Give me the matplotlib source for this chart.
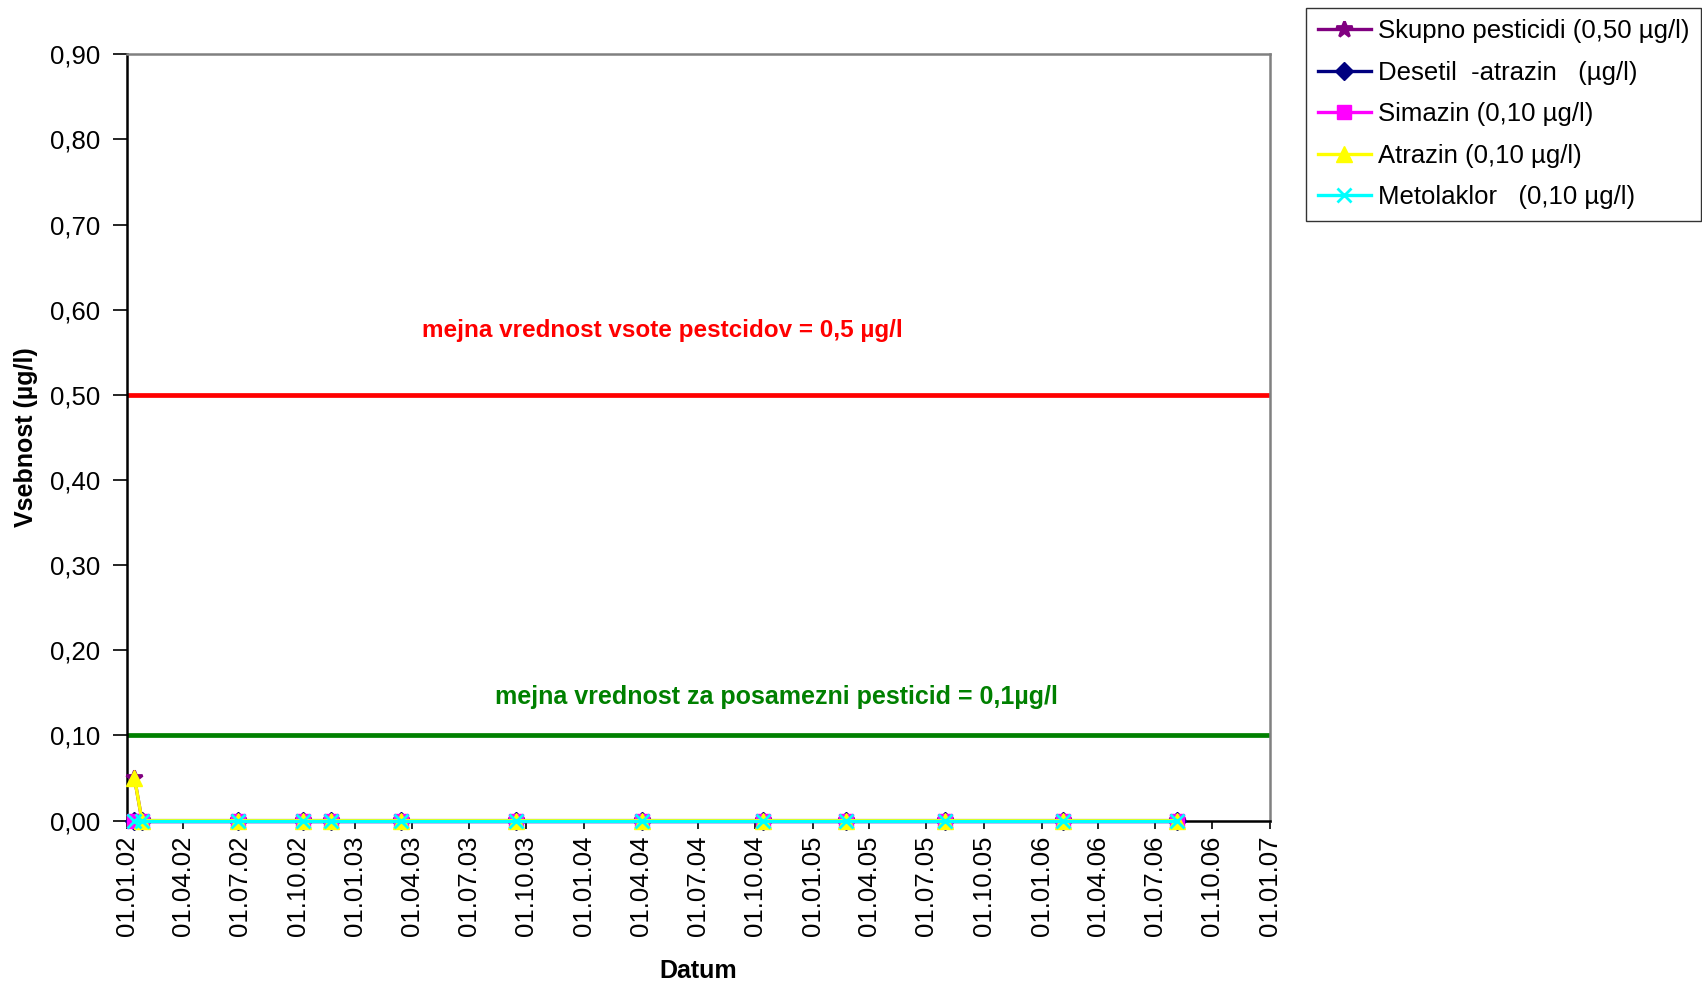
import pandas as pd
import matplotlib
matplotlib.use("Agg")
import matplotlib.pyplot as plt
import matplotlib.dates as mdates

# =============================================================================
#  Pesticide concentrations over time, with limit values
# =============================================================================

plt.rcParams["font.family"] = ["Liberation Sans", "DejaVu Sans"]
plt.rcParams["font.size"] = 18

# ---- sampling dates and measured values (µg/l) ----
dates = pd.to_datetime([
    "2002-01-13", "2002-01-25", "2002-06-28", "2002-10-09", "2002-11-23",
    "2003-03-14", "2003-09-14", "2004-04-02", "2004-10-13", "2005-02-22",
    "2005-07-30", "2006-02-04", "2006-08-05",
])
skupno = [0.05, 0, 0, 0, 0, 0, 0, 0, 0, 0, 0, 0, 0]
desetil = [0, 0, 0, 0, 0, 0, 0, 0, 0, 0, 0, 0, 0]
simazin = [0, 0, 0, 0, 0, 0, 0, 0, 0, 0, 0, 0, 0]
atrazin = [0.05, 0, 0, 0, 0, 0, 0, 0, 0, 0, 0, 0, 0]
metolaklor = [0, 0, 0, 0, 0, 0, 0, 0, 0, 0, 0, 0, 0]

limit_sum = 0.5
limit_single = 0.1

# =============================================================================
#  Figure
# =============================================================================

fig = plt.figure(figsize=(17.02, 9.83), dpi=100)
ax = fig.add_axes([0.0746, 0.1652, 0.6716, 0.7796])

series = [
    (skupno, "Skupno pesticidi (0,50 µg/l)", "#800080", "*", 12),
    (desetil, "Desetil  -atrazin   (µg/l)", "#000080", "D", 9),
    (simazin, "Simazin (0,10 µg/l)", "#FF00FF", "s", 9.5),
    (atrazin, "Atrazin (0,10 µg/l)", "#FFFF00", "^", 12),
    (metolaklor, "Metolaklor   (0,10 µg/l)", "#00FFFF", "x", 10),
]
for values, label, color, marker, ms in series:
    ax.plot(
        dates,
        values,
        color=color,
        marker=marker,
        markersize=ms,
        markeredgewidth=2 if marker in "x*" else 1,
        linewidth=2.4,
        label=label,
        clip_on=False,
        zorder=3,
    )

# ---- limit values ----
ax.axhline(limit_sum, xmin=0.002, xmax=0.997, color="#FF0000", linewidth=3.4, zorder=2)
ax.axhline(limit_single, xmin=0.002, xmax=0.997, color="#008000", linewidth=3.4, zorder=2)

ax.text(0.468, 0.639, "mejna vrednost vsote pestcidov = 0,5 µg/l",
        transform=ax.transAxes, ha="center", va="center",
        color="#FF0000", fontsize=17.5, fontweight="bold")
ax.text(0.568, 0.1615, "mejna vrednost za posamezni pesticid = 0,1µg/l",
        transform=ax.transAxes, ha="center", va="center",
        color="#008000", fontsize=18, fontweight="bold")

# ---- axes ----
ax.set_xlim(pd.Timestamp("2002-01-01"), pd.Timestamp("2007-01-01"))
ax.set_ylim(0, 0.9)
ax.set_yticks([i / 10 for i in range(10)])
ax.yaxis.set_major_formatter(lambda v, pos: f"{v:.2f}".replace(".", ","))
ax.xaxis.set_major_locator(mdates.MonthLocator(bymonth=[1, 4, 7, 10]))
ax.xaxis.set_major_formatter(mdates.DateFormatter("%d.%m.%y"))
ax.tick_params(axis="x", labelrotation=90, length=6, width=1.2, pad=5, labelsize=18.5)
ax.tick_params(axis="y", length=10, width=1.2, pad=9, labelsize=18.5)

ax.set_xlabel("Datum", fontsize=18, fontweight="bold", labelpad=16)
ax.set_ylabel("Vsebnost (µg/l)", fontsize=18, fontweight="bold", labelpad=9)

for side in ("left", "bottom"):
    ax.spines[side].set_color("black")
    ax.spines[side].set_linewidth(1.8)
for side in ("top", "right"):
    ax.spines[side].set_color("#808080")
    ax.spines[side].set_linewidth(1.8)

fig.legend(
    loc="upper left",
    bbox_to_anchor=(0.7673, 0.992),
    frameon=True,
    fancybox=False,
    edgecolor="black",
    fontsize=18.5,
    handlelength=2.1,
    handletextpad=0.25,
    labelspacing=0.68,
    borderpad=0.45,
    borderaxespad=0,
)

fig.savefig("out.png", dpi=100)
